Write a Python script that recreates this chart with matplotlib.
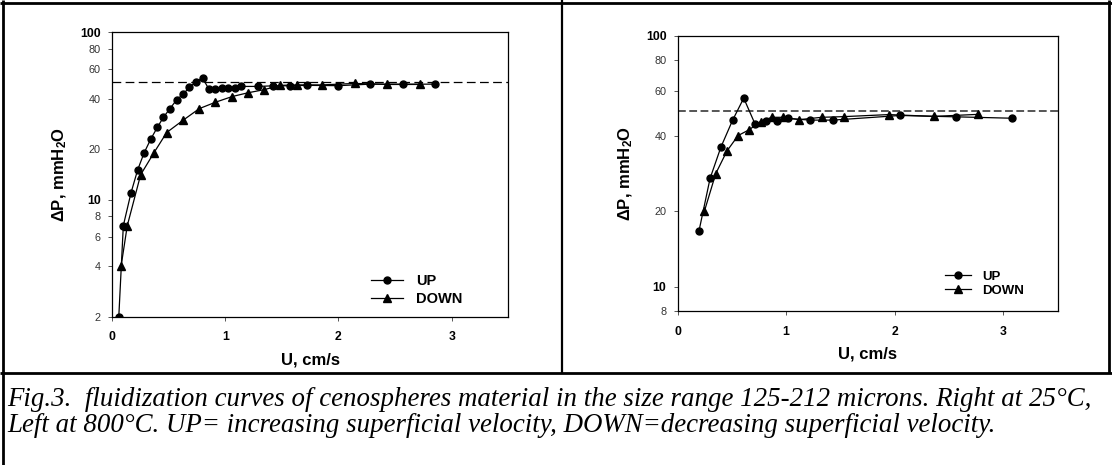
import matplotlib
matplotlib.use('Agg')
import matplotlib.pyplot as plt
from matplotlib.lines import Line2D
from matplotlib.ticker import FixedLocator, NullLocator

# ---------------- data ----------------
left_up_u = [0.06, 0.10, 0.168, 0.227, 0.283, 0.342, 0.40, 0.453, 0.512, 0.571, 0.63, 0.683,
             0.742, 0.80, 0.857, 0.913, 0.969, 1.025, 1.084, 1.143, 1.29, 1.425, 1.572, 1.72,
             2.0, 2.28, 2.57, 2.856]
left_up_p = [2.0, 7.0, 11.0, 15.1, 19.0, 23.0, 27.0, 31.0, 35.0, 39.5, 42.8, 46.9,
             50.7, 53.3, 45.6, 45.6, 46.4, 46.6, 46.6, 47.5, 47.5, 47.9, 47.9, 48.2,
             48.0, 49.0, 49.0, 49.0]
left_down_u = [0.08, 0.135, 0.253, 0.371, 0.483, 0.63, 0.771, 0.913, 1.06, 1.199, 1.343,
               1.484, 1.631, 1.852, 2.147, 2.43, 2.716]
left_down_p = [4.0, 7.0, 14.1, 19.1, 25.2, 29.9, 35.0, 38.2, 41.3, 43.5, 45.4,
               48.2, 48.5, 48.5, 49.5, 48.8, 48.8]
left_ref = 50.5

right_up_u = [0.197, 0.30, 0.40, 0.507, 0.61, 0.713, 0.814, 0.917, 1.02, 1.222, 1.433,
              2.05, 2.569, 3.08]
right_up_p = [16.6, 27.0, 36.0, 46.0, 56.4, 44.6, 45.6, 45.6, 46.8, 46.1, 46.1,
              48.1, 47.5, 46.9]
right_down_u = [0.248, 0.352, 0.455, 0.558, 0.66, 0.765, 0.868, 0.97, 1.122, 1.327, 1.535,
                1.948, 2.36, 2.77]
right_down_p = [20.0, 28.2, 34.7, 40.0, 42.2, 45.5, 47.3, 47.3, 46.3, 47.3, 47.6,
                48.5, 47.7, 48.6]
right_ref = 50.0

x_ticks = [0, 1, 2, 3]
left_yticks = [2, 4, 6, 8, 10, 20, 40, 60, 80, 100]
right_yticks = [8, 10, 20, 40, 60, 80, 100]
bold_yticks = [10, 100]
series_labels = ["UP", "DOWN"]
x_label = "U, cm/s"
y_label = "ΔP, mmH$_2$O"
caption1 = ("Fig.3.  fluidization curves of cenospheres material in the size range "
            "125-212 microns. Right at 25°C,")
caption2 = ("Left at 800°C. UP= increasing superficial velocity, "
            "DOWN=decreasing superficial velocity.")

# ---------------- style ----------------
plt.rcParams['font.family'] = ['Liberation Sans', 'DejaVu Sans']
plt.rcParams['mathtext.fontset'] = 'custom'
plt.rcParams['mathtext.bf'] = 'Liberation Sans:bold'
plt.rcParams['mathtext.rm'] = 'Liberation Sans:bold'
plt.rcParams['mathtext.default'] = 'bf'

W, H = 1112, 465
fig = plt.figure(figsize=(W / 100, H / 100), dpi=100)
fig.patch.set_facecolor('white')


def px_axes(l, t, r, b):
    return fig.add_axes([l / W, 1 - b / H, (r - l) / W, (b - t) / H])


def setup(ax, ylim, yticks, wpx, hpx, ref, ref_style, up, down, leg):
    ax.set_yscale('log')
    ax.set_xlim(0, 3.5)
    ax.set_ylim(*ylim)
    ax.yaxis.set_major_locator(FixedLocator(yticks))
    ax.yaxis.set_minor_locator(NullLocator())
    ax.set_yticklabels([str(t) for t in yticks])
    for lbl, t in zip(ax.get_yticklabels(), yticks):
        if t in bold_yticks:
            lbl.set_fontweight('bold')
            lbl.set_fontsize(8.8)
            lbl.set_color('black')
        else:
            lbl.set_fontweight('normal')
            lbl.set_fontsize(7.8)
            lbl.set_color('#333333')
    ax.set_xticks(x_ticks)
    ax.set_xticklabels([str(t) for t in x_ticks], fontweight='bold', fontsize=8.8)
    ax.tick_params(axis='y', direction='out', length=3, width=0.7, color='#555555', pad=5)
    ax.tick_params(axis='x', direction='out', length=3, width=0.7, color='#555555', pad=7.5)
    for s in ax.spines.values():
        s.set_linewidth(0.9)
    ax.axhline(ref, zorder=1, **ref_style)
    l1, = ax.plot(up[0], up[1], '-o', color='black', lw=0.9, ms=5, zorder=3)
    l2, = ax.plot(down[0], down[1], '-^', color='black', lw=0.9, ms=5.5, zorder=3)
    ax.legend([l1, l2], series_labels, loc='upper left', bbox_to_anchor=leg['anchor'],
              frameon=False, borderpad=0, borderaxespad=0, handlelength=leg['hl'],
              handletextpad=leg['htp'], labelspacing=leg['ls'],
              prop={'weight': 'bold', 'size': leg['size']})
    ax.set_xlabel(x_label, fontsize=12, fontweight='bold')
    ax.xaxis.label.set_va('center')
    ax.xaxis.set_label_coords(0.5, -43 / hpx)
    ax.set_ylabel(y_label, fontsize=12, fontweight='bold')
    ax.yaxis.label.set_va('center')
    ax.yaxis.set_label_coords(-52 / wpx, 0.5)


# left panel
axL = px_axes(112, 32.3, 508.3, 316.7)
setup(axL, (2, 100), left_yticks, 396.3, 284.4, left_ref,
      dict(color='black', lw=0.9, dashes=(7, 3.5)),
      (left_up_u, left_up_p), (left_down_u, left_down_p),
      dict(anchor=(0.654, 0.151), hl=2.2, htp=0.9, ls=0.3, size=10.5))

# right panel
axR = px_axes(677.5, 35.7, 1057.5, 311)
setup(axR, (8, 100), right_yticks, 380, 275.3, right_ref,
      dict(color='#555555', lw=1.4, dashes=(4, 1.8)),
      (right_up_u, right_up_p), (right_down_u, right_down_p),
      dict(anchor=(0.704, 0.147), hl=2.0, htp=0.8, ls=0.15, size=9.5))

# ---------------- frame lines ----------------
def fline(x0, y0, x1, y1, lw=2.0):
    fig.add_artist(Line2D([x0 / W, x1 / W], [1 - y0 / H, 1 - y1 / H],
                          transform=fig.transFigure, color='black', lw=lw,
                          solid_capstyle='butt'))

fline(0, 3, W, 3)
fline(3, 0, 3, H)
fline(W - 3, 0, W - 3, 373)
fline(561.5, 0, 561.5, 373, lw=1.6)
fline(0, 373, W, 373)

# ---------------- caption ----------------
t1 = fig.text(7 / W, 1 - 406 / H, caption1, family='Liberation Serif', style='italic',
              fontsize=10, va='baseline', ha='left')
t2 = fig.text(7 / W, 1 - 432 / H, caption2, family='Liberation Serif', style='italic',
              fontsize=10, va='baseline', ha='left')
r = fig.canvas.get_renderer()
w1 = t1.get_window_extent(r).width
fs = 10 * 1083 / w1
t1.set_fontsize(fs)
t2.set_fontsize(fs)

fig.savefig('out.png', dpi=100, facecolor='white')
